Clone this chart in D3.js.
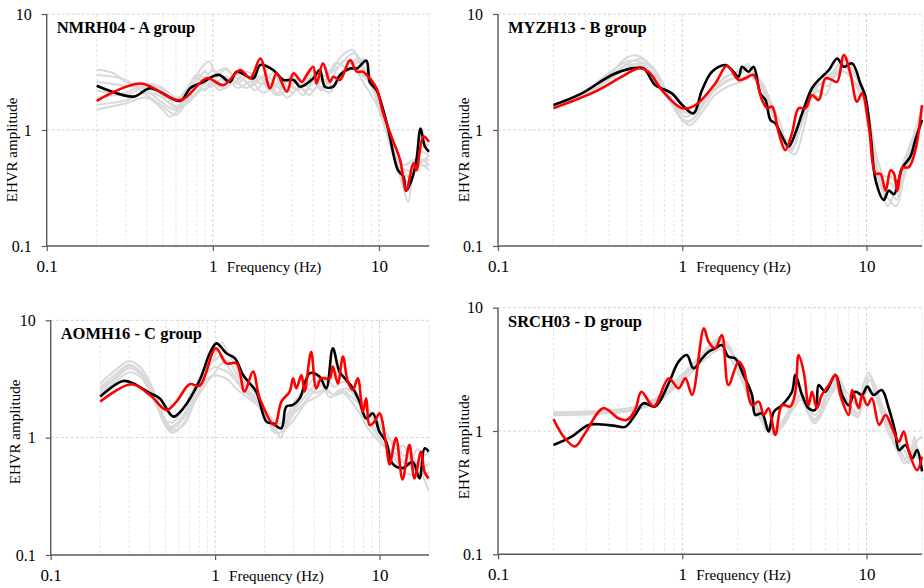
<!DOCTYPE html>
<html>
<head>
<meta charset="utf-8">
<script src="https://cdn.jsdelivr.net/npm/d3@7"></script>
<style>
  body { margin: 0; background: #fff; }
  svg { display: block; }
</style>
</head>
<body>
<div id="chart"></div>
<script>
// ---- data: [frequency (Hz), EHVR amplitude] ----
const titles = ["NMRH04 - A group", "MYZH13 - B group", "AOMH16 - C group", "SRCH03 - D group"];
const xTicks = [0.1, 1, 10];
const yTicks = [0.1, 1, 10];
const minorX = [0.2, 0.3, 0.4, 0.5, 0.6, 0.7, 0.8, 0.9, 2, 3, 4, 5, 6, 7, 8, 9, 20];

const blackA = [[0.2,2.41],[0.333,1.94],[0.42,2.29],[0.637,1.78],[0.73,2.29],[0.88,2.6],[1.01,2.92],[1.1,2.98],[1.27,2.6],[1.39,3.18],[1.75,2.79],[1.93,3.63],[2.31,3.29],[2.66,2.7],[3.06,2.7],[3.35,2.36],[4.02,2.79],[4.4,3.29],[4.73,2.36],[5.3,2.36],[5.83,2.98],[6.7,3.39],[7.35,3.39],[8.4,3.96],[8.8,2.6],[9.67,2.21],[10.6,1.49],[11.4,1.0],[13.0,0.45],[14.0,0.4],[14.6,0.3],[15.7,0.37],[16.8,0.55],[17.8,1.03],[18.9,0.72],[20,0.65]];
const redA = [[0.2,1.78],[0.366,2.52],[0.637,1.81],[0.92,2.79],[1.16,2.44],[1.46,3.29],[1.68,2.79],[1.93,4.14],[2.21,2.29],[2.42,3.08],[2.79,2.14],[3.06,3.08],[3.43,2.6],[3.67,2.98],[4.02,3.51],[4.21,2.52],[4.6,3.75],[5.07,2.6],[5.3,2.88],[5.83,2.7],[6.7,4.0],[7.35,3.18],[8.0,3.18],[8.8,2.79],[9.67,2.29],[10.6,1.39],[12.1,0.82],[13.4,0.55],[14.6,0.3],[16.1,0.52],[16.8,0.45],[18.5,0.88],[20,0.79]];
const greyA = [
  [[0.2,3.3],[0.25,3.1],[0.3,2.6],[0.4,2.2],[0.5,1.7],[0.6,1.5],[0.7,2.0],[0.85,3.4],[0.95,3.9],[1.05,3.0],[1.2,3.3],[1.4,2.8],[1.6,3.2],[1.9,2.7],[2.2,3.4],[2.6,2.5],[3,3.0],[3.5,2.7],[4,3.2],[4.6,2.9],[5.3,3.4],[6,4.4],[7,4.9],[7.6,3.8],[8.5,3.2],[9.5,2.0],[10.5,1.2],[12,0.7],[13.5,0.45],[15,0.35],[16,0.5],[18,0.65],[20,0.6]],
  [[0.2,3.0],[0.3,2.7],[0.4,2.0],[0.5,1.6],[0.6,1.35],[0.7,1.8],[0.8,2.6],[0.9,3.2],[1.0,2.6],[1.2,2.3],[1.4,3.0],[1.7,2.4],[2,2.8],[2.4,2.0],[2.8,2.6],[3.2,2.2],[3.8,2.8],[4.5,2.3],[5,3.0],[5.8,3.6],[6.5,4.3],[7.2,4.6],[8,3.6],[9,2.6],[10,1.6],[11,1.0],[12.5,0.55],[14,0.32],[15,0.24],[16,0.4],[18,0.55],[20,0.5]],
  [[0.2,2.6],[0.3,2.4],[0.4,2.3],[0.5,2.0],[0.6,1.8],[0.7,2.3],[0.8,3.0],[0.9,2.8],[1.0,3.3],[1.2,2.6],[1.5,3.2],[1.8,2.6],[2.1,3.0],[2.5,2.3],[3.0,2.9],[3.4,2.4],[4.0,3.0],[4.7,2.6],[5.5,3.8],[6.5,3.4],[7.5,4.2],[8.3,3.0],[9.5,2.3],[10.5,1.3],[12,0.65],[13.5,0.42],[15,0.4],[16.5,0.55],[18,0.7],[20,0.75]],
  [[0.2,2.2],[0.3,2.0],[0.4,2.4],[0.5,2.2],[0.6,1.6],[0.7,1.9],[0.8,2.4],[0.9,2.2],[1.0,2.9],[1.2,3.4],[1.4,2.5],[1.6,2.9],[2,2.5],[2.3,3.1],[2.7,2.2],[3.2,2.6],[3.6,2.2],[4.2,2.8],[5,2.5],[5.5,3.2],[6.2,4.0],[7,3.6],[8,4.1],[9,2.8],[10,2.0],[11.5,0.9],[13,0.5],[14.5,0.45],[16,0.45],[18,0.5],[20,0.45]],
  [[0.2,1.9],[0.3,2.1],[0.4,2.5],[0.5,2.3],[0.6,1.9],[0.7,2.1],[0.8,2.8],[0.95,2.4],[1.1,3.0],[1.3,2.5],[1.5,2.8],[1.8,2.2],[2.1,2.7],[2.5,2.0],[3,2.4],[3.5,2.0],[4,2.6],[4.5,2.2],[5.2,2.8],[6,3.0],[6.8,4.0],[7.5,3.2],[8.5,2.7],[9.5,2.0],[11,1.0],[12.5,0.55],[14,0.35],[15,0.3],[16.5,0.45],[18,0.55],[20,0.55]],
  [[0.2,1.65],[0.3,1.8],[0.4,2.1],[0.5,1.9],[0.6,1.55],[0.7,1.7],[0.85,2.2],[1.0,2.4],[1.2,2.9],[1.4,2.3],[1.7,2.6],[2,2.1],[2.4,2.4],[2.8,1.9],[3.3,2.3],[3.8,2.0],[4.3,2.4],[5,2.1],[5.6,2.6],[6.3,3.2],[7,3.5],[8,3.0],[9,2.4],[10,1.8],[11,1.1],[12.5,0.6],[14,0.45],[15.5,0.38],[17,0.48],[20,0.6]],
  [[0.2,1.5],[0.3,1.7],[0.4,1.9],[0.5,1.5],[0.55,1.3],[0.65,1.6],[0.8,2.1],[0.95,2.7],[1.1,2.2],[1.3,2.7],[1.6,2.3],[1.9,2.9],[2.2,2.2],[2.6,2.7],[3,2.1],[3.5,2.5],[4,2.2],[4.6,2.7],[5.3,2.4],[6,3.0],[6.6,3.8],[7.3,3.3],[8,2.6],[9,2.0],[10,1.5],[11.5,0.85],[13,0.55],[14.5,0.5],[16,0.55],[18,0.5],[20,0.5]]
];

const blackB = [[0.2,1.64],[0.285,2.07],[0.415,2.98],[0.533,3.4],[0.617,3.4],[0.713,2.44],[0.879,2.07],[1.0,1.64],[1.15,1.39],[1.28,2.21],[1.45,3.18],[1.71,3.63],[1.86,3.29],[2.02,2.88],[2.11,3.51],[2.29,3.18],[2.44,3.51],[2.65,2.07],[2.83,1.81],[3.01,1.22],[3.2,1.14],[3.48,0.88],[3.78,0.72],[4.11,0.94],[4.47,1.39],[5.06,2.29],[5.5,2.7],[6.25,3.29],[6.93,4.14],[7.53,3.51],[8.35,3.75],[9.26,2.52],[9.86,1.94],[10.5,0.94],[11.2,0.37],[12.4,0.25],[13.2,0.3],[14.1,0.28],[15.6,0.47],[17.3,0.59],[18.4,0.82],[20,1.22]];
const redB = [[0.2,1.54],[0.337,2.14],[0.47,2.88],[0.58,3.4],[0.656,3.18],[0.775,2.21],[1.0,1.54],[1.18,1.64],[1.51,2.52],[1.75,3.58],[2.02,2.7],[2.2,2.79],[2.44,2.98],[2.71,1.81],[2.89,1.54],[3.07,1.59],[3.34,0.94],[3.62,0.67],[3.94,0.94],[4.28,1.54],[4.66,1.54],[5.06,2.0],[5.5,1.81],[5.98,2.79],[6.5,2.7],[6.93,2.6],[7.53,4.43],[8.17,3.08],[8.87,1.75],[9.46,2.07],[10.3,1.07],[11.2,0.42],[11.9,0.42],[12.7,0.3],[13.5,0.45],[14.1,0.42],[14.7,0.3],[15.6,0.47],[17.0,0.48],[18.4,0.67],[20,1.64]];
const greyB = [
  [[0.2,1.6],[0.3,2.1],[0.4,3.0],[0.5,4.2],[0.56,4.4],[0.65,3.8],[0.8,2.2],[0.95,1.35],[1.05,1.15],[1.2,1.35],[1.4,2.0],[1.7,2.6],[2.0,2.9],[2.25,3.7],[2.5,3.0],[2.8,2.0],[3.2,1.2],[3.6,0.75],[3.9,0.65],[4.3,1.0],[4.8,1.6],[5.3,2.3],[6,2.7],[6.8,3.4],[7.5,4.0],[8.5,3.2],[9.5,2.0],[10.5,0.8],[11.5,0.4],[12.5,0.28],[13.5,0.3],[14.5,0.25],[16,0.45],[18,0.75],[20,1.4]],
  [[0.2,1.55],[0.3,2.0],[0.4,2.8],[0.5,3.7],[0.6,4.1],[0.7,3.4],[0.85,2.0],[1.0,1.25],[1.1,1.2],[1.25,1.5],[1.5,2.2],[1.8,2.7],[2.1,3.1],[2.3,3.5],[2.6,2.8],[2.9,1.9],[3.3,1.1],[3.7,0.7],[4.0,0.72],[4.5,1.2],[5,1.9],[5.5,2.5],[6.2,2.4],[7,3.6],[7.8,3.4],[8.6,2.6],[9.5,2.2],[10.5,1.0],[11.5,0.45],[12.5,0.32],[13.5,0.35],[14.5,0.3],[16,0.5],[18,0.8],[20,1.2]],
  [[0.2,1.6],[0.3,2.2],[0.4,3.1],[0.5,3.9],[0.58,3.9],[0.7,3.0],[0.85,1.9],[0.95,1.5],[1.05,1.3],[1.2,1.5],[1.4,2.1],[1.7,2.8],[2.0,3.2],[2.2,3.3],[2.5,2.7],[2.9,1.8],[3.3,1.05],[3.7,0.68],[4.0,0.7],[4.5,1.3],[5,2.2],[5.5,1.9],[6,2.8],[6.8,3.0],[7.5,3.8],[8.3,2.8],[9.3,2.1],[10.3,1.3],[11.3,0.5],[12.3,0.3],[13.3,0.25],[14.5,0.22],[16,0.4],[18,0.7],[20,1.3]],
  [[0.2,1.6],[0.3,2.0],[0.4,2.9],[0.5,3.6],[0.6,3.6],[0.7,2.9],[0.85,1.8],[1.0,1.45],[1.15,1.4],[1.3,1.7],[1.5,2.3],[1.8,3.0],[2.1,2.8],[2.4,3.1],[2.7,2.4],[3.0,1.6],[3.4,1.0],[3.8,0.8],[4.2,0.9],[4.6,1.5],[5.1,2.4],[5.6,2.1],[6.2,3.0],[7,3.2],[7.8,4.2],[8.6,3.0],[9.6,2.3],[10.5,1.1],[11.5,0.55],[12.5,0.4],[13.5,0.4],[14.5,0.35],[16,0.55],[18,0.9],[20,1.6]],
  [[0.2,1.55],[0.3,2.0],[0.4,2.7],[0.5,3.4],[0.62,3.8],[0.75,2.8],[0.9,1.6],[1.0,1.2],[1.1,1.1],[1.25,1.35],[1.5,2.0],[1.8,2.4],[2.1,2.6],[2.4,3.0],[2.7,2.6],[3.0,1.8],[3.4,1.15],[3.8,0.66],[4.1,0.62],[4.6,1.1],[5,1.8],[5.5,2.2],[6,2.0],[6.6,2.8],[7.3,3.2],[8,3.0],[9,2.2],[10,1.6],[11,0.6],[12,0.35],[13,0.22],[14,0.27],[15,0.3],[16.5,0.5],[18,0.8],[20,1.2]]
];

const blackC = [[0.2,2.24],[0.276,3.04],[0.318,2.9],[0.401,2.39],[0.461,2.16],[0.556,1.51],[0.64,1.78],[0.807,3.1],[0.928,5.24],[1.02,6.36],[1.17,5.24],[1.32,4.74],[1.48,3.42],[1.59,3.0],[1.78,2.47],[2.05,1.37],[2.25,1.32],[2.53,1.2],[2.71,1.84],[2.98,1.9],[3.27,2.16],[3.76,3.54],[4.32,3.31],[4.74,2.63],[5.2,5.77],[5.71,3.65],[6.27,3.1],[6.89,2.63],[7.56,2.03],[8.3,1.46],[9.11,1.61],[10,1.12],[10.98,0.92],[12.0,0.6],[13.8,0.55],[15.9,0.62],[17.5,0.45],[18.8,0.81],[19.9,0.76]];
const redC = [[0.2,2.03],[0.31,2.85],[0.401,2.31],[0.506,1.72],[0.582,2.03],[0.7,2.85],[0.807,2.77],[1.01,5.77],[1.17,4.3],[1.35,4.3],[1.51,2.47],[1.7,3.65],[1.87,2.16],[2.3,1.28],[2.53,2.03],[2.84,2.47],[2.98,3.2],[3.12,2.63],[3.35,3.42],[3.5,2.47],[3.84,5.4],[4.12,2.63],[4.42,3.2],[4.97,3.2],[5.2,4.03],[5.58,2.9],[5.99,4.9],[6.42,3.0],[6.89,2.55],[7.38,3.2],[7.92,1.67],[8.3,2.16],[8.7,1.28],[9.33,1.37],[10,1.61],[10.98,0.87],[11.5,0.59],[12.6,0.99],[13.8,0.44],[15.2,0.87],[16.3,0.45],[17.9,0.76],[18.8,0.51],[19.9,0.45]];
const greyC = [
  [[0.2,2.9],[0.25,3.8],[0.3,4.5],[0.35,4.0],[0.4,3.0],[0.45,2.0],[0.5,1.4],[0.55,1.2],[0.65,1.5],[0.75,2.3],[0.9,3.8],[1.0,5.0],[1.1,6.5],[1.2,5.2],[1.35,4.0],[1.5,3.0],[1.7,2.5],[2.0,1.8],[2.3,1.3],[2.5,1.0],[2.8,1.5],[3.2,2.0],[3.7,2.8],[4.2,3.4],[4.8,3.0],[5.5,3.6],[6.2,3.2],[7,2.6],[8,2.0],[9,1.6],[10,1.3],[11,1.0],[12.5,0.9],[14,0.7],[15.5,0.75],[17,0.55],[18.5,0.45],[20,0.35]],
  [[0.2,2.7],[0.25,3.5],[0.3,4.2],[0.35,3.7],[0.4,2.8],[0.45,1.9],[0.5,1.3],[0.55,1.15],[0.65,1.3],[0.75,2.0],[0.9,3.0],[1.0,3.6],[1.1,4.3],[1.2,4.5],[1.35,3.5],[1.5,2.8],[1.7,2.3],[2.0,1.7],[2.3,1.1],[2.6,1.15],[3.0,1.6],[3.4,1.9],[3.9,2.4],[4.4,2.8],[5,2.2],[5.6,2.5],[6.3,2.6],[7.2,2.2],[8,1.5],[9,1.3],[10,1.1],[11,1.1],[12.5,0.8],[14,0.85],[15.5,0.65],[17,0.8],[18.5,0.7],[20,0.75]],
  [[0.2,2.5],[0.25,3.2],[0.3,3.9],[0.35,3.5],[0.4,2.6],[0.45,1.8],[0.5,1.3],[0.55,1.25],[0.65,1.6],[0.75,2.6],[0.9,4.2],[1.0,4.6],[1.1,5.0],[1.2,4.0],[1.35,3.2],[1.5,2.6],[1.8,2.1],[2.1,1.5],[2.4,1.2],[2.7,1.4],[3.1,1.8],[3.6,2.3],[4.1,2.9],[4.7,3.3],[5.3,2.7],[6,3.0],[6.8,2.7],[7.6,2.1],[8.5,1.7],[9.5,1.3],[10.5,1.0],[11.5,0.8],[13,0.7],[14.5,0.6],[16,0.65],[17.5,0.55],[20,0.6]],
  [[0.2,2.4],[0.25,3.0],[0.3,3.6],[0.35,3.3],[0.4,2.5],[0.45,1.8],[0.5,1.4],[0.55,1.35],[0.65,1.8],[0.75,2.7],[0.9,3.6],[1.0,4.0],[1.1,3.8],[1.2,3.6],[1.35,3.0],[1.5,2.5],[1.8,2.0],[2.1,1.6],[2.4,1.3],[2.7,1.5],[3.1,2.1],[3.6,2.6],[4.1,2.4],[4.7,2.6],[5.3,2.3],[6,2.5],[6.8,2.2],[7.6,1.9],[8.5,1.4],[9.5,1.1],[10.5,0.9],[11.5,0.75],[13,0.65],[14.5,0.6],[16,0.55],[17.5,0.5],[20,0.5]],
  [[0.2,2.6],[0.25,3.3],[0.3,4.1],[0.35,3.6],[0.4,2.6],[0.45,1.75],[0.5,1.25],[0.55,1.1],[0.65,1.35],[0.75,2.1],[0.9,3.2],[1.0,3.4],[1.1,3.3],[1.2,3.1],[1.35,2.6],[1.5,2.3],[1.8,1.9],[2.1,1.4],[2.4,1.1],[2.7,1.2],[3.1,1.5],[3.6,2.0],[4.1,2.2],[4.7,2.5],[5.3,2.3],[6,2.4],[6.8,2.0],[7.6,1.6],[8.5,1.2],[9.5,1.0],[10.5,0.85],[11.5,0.8],[13,0.6],[14.5,0.5],[16,0.48],[17.5,0.5],[20,0.45]]
];

const blackD = [[0.2,0.77],[0.251,0.9],[0.31,1.12],[0.366,1.13],[0.432,1.1],[0.49,1.08],[0.555,1.35],[0.617,1.68],[0.713,1.58],[0.843,2.43],[0.955,3.65],[1.06,4.13],[1.15,3.22],[1.28,3.88],[1.39,4.39],[1.51,4.68],[1.64,4.98],[1.78,4.0],[1.94,3.88],[2.15,2.85],[2.39,1.96],[2.49,1.35],[2.71,1.39],[2.94,0.99],[3.14,1.43],[3.48,1.62],[3.94,2.08],[4.11,2.85],[4.47,1.96],[4.85,1.53],[5.27,1.48],[5.5,2.36],[5.98,2.08],[6.78,2.85],[7.37,1.96],[8.0,1.62],[8.7,2.08],[9.46,1.96],[10.1,2.29],[10.9,1.96],[12.1,2.15],[13.2,1.53],[14.3,0.99],[15.0,0.7],[16.3,0.77],[17.7,0.6],[18.8,0.7],[20,0.47]];
const redD = [[0.2,1.25],[0.231,0.87],[0.262,0.75],[0.297,0.96],[0.373,1.53],[0.45,1.27],[0.5,1.23],[0.555,1.48],[0.6,2.08],[0.7,1.58],[0.843,2.67],[0.955,2.22],[1.04,2.67],[1.13,1.96],[1.31,6.8],[1.39,5.3],[1.51,4.68],[1.64,6.0],[1.78,2.36],[2.02,3.65],[2.15,3.22],[2.39,1.62],[2.6,1.73],[2.77,1.35],[2.94,1.53],[3.2,0.93],[3.48,1.62],[3.86,1.58],[4.11,2.08],[4.28,4.13],[4.56,3.02],[4.85,1.62],[5.06,2.08],[5.38,1.53],[5.72,1.96],[6.25,2.36],[6.78,2.85],[7.2,1.96],[8.0,1.35],[8.35,2.15],[9.07,1.53],[9.46,1.96],[10.1,1.62],[10.7,1.84],[11.7,1.12],[12.7,1.35],[13.8,1.05],[15.0,0.82],[15.9,0.99],[17.0,0.68],[18.8,0.48],[20,0.62]];
const greyD = [
  [[0.2,1.42],[0.3,1.44],[0.4,1.47],[0.5,1.52],[0.6,1.62],[0.7,1.8],[0.8,2.1],[0.9,2.5],[1.0,2.9],[1.1,3.3],[1.2,3.8],[1.35,4.6],[1.5,5.4],[1.6,5.8],[1.75,5.0],[1.9,4.0],[2.1,2.9],[2.3,2.0],[2.6,1.4],[2.9,1.0],[3.2,0.95],[3.6,1.3],[4.0,1.7],[4.3,2.1],[4.7,1.6],[5.1,1.2],[5.5,1.3],[6,1.8],[6.6,2.4],[7,2.8],[7.6,2.0],[8.2,1.6],[9,1.4],[9.6,2.4],[10.3,3.0],[11,2.2],[12,1.6],[13,1.2],[14,0.9],[15,0.75],[16,0.6],[17,0.55],[18.2,0.9],[19,0.65],[20,0.5]],
  [[0.2,1.38],[0.3,1.4],[0.4,1.43],[0.5,1.48],[0.6,1.56],[0.7,1.72],[0.8,1.95],[0.9,2.3],[1.0,2.7],[1.1,3.1],[1.2,3.5],[1.35,4.2],[1.5,4.9],[1.6,5.3],[1.75,4.8],[1.9,3.9],[2.1,2.7],[2.3,1.8],[2.6,1.3],[2.9,1.05],[3.2,1.0],[3.6,1.2],[4.0,1.6],[4.4,1.9],[4.8,1.5],[5.2,1.25],[5.6,1.4],[6.1,1.9],[6.6,2.2],[7.1,2.6],[7.6,2.2],[8.3,1.8],[9,1.6],[9.7,2.0],[10.4,2.6],[11.2,2.0],[12,1.5],[13,1.1],[14,0.85],[15,0.7],[16,0.6],[17,0.62],[18,0.8],[19,0.7],[20,0.55]],
  [[0.2,1.34],[0.3,1.36],[0.4,1.39],[0.5,1.44],[0.6,1.52],[0.7,1.66],[0.8,1.88],[0.9,2.2],[1.0,2.55],[1.1,2.9],[1.2,3.3],[1.35,3.9],[1.5,4.4],[1.6,4.6],[1.75,4.2],[1.9,3.5],[2.1,2.6],[2.3,1.9],[2.6,1.4],[2.9,1.1],[3.2,1.05],[3.6,1.25],[4.0,1.5],[4.4,1.8],[4.8,1.4],[5.2,1.15],[5.6,1.3],[6.1,1.7],[6.6,2.1],[7.1,2.4],[7.6,1.9],[8.3,1.5],[9,1.35],[9.7,1.8],[10.4,2.2],[11.2,1.9],[12,1.4],[13,1.0],[14,0.8],[15,0.65],[16,0.55],[17,0.58],[18,0.7],[19,0.85],[20,0.9]],
  [[0.2,1.36],[0.3,1.38],[0.4,1.41],[0.5,1.46],[0.6,1.58],[0.7,1.76],[0.8,2.0],[0.9,2.35],[1.0,2.75],[1.1,3.2],[1.2,3.7],[1.35,4.4],[1.5,5.1],[1.6,5.5],[1.75,5.2],[1.9,4.2],[2.1,3.0],[2.3,2.1],[2.6,1.5],[2.9,1.1],[3.2,0.98],[3.6,1.15],[4.0,1.55],[4.4,2.0],[4.8,1.7],[5.2,1.35],[5.6,1.5],[6.1,2.1],[6.6,2.6],[7.1,2.3],[7.6,1.8],[8.3,1.4],[9,1.3],[9.7,2.2],[10.4,2.8],[11.2,2.3],[12,1.7],[13,1.3],[14,1.0],[15,0.8],[16,0.7],[17,0.6],[18,0.75],[19,0.6],[20,0.6]]
];

// ---- layout ----
const W = 924, H = 588;
const serif = "'Liberation Serif', 'Times New Roman', Tinos, 'Noto Serif', 'DejaVu Serif', FreeSerif, serif";
const panels = [
  { title: titles[0], black: blackA, red: redA, grey: greyA, left: 46.7, top: 14, right: 429, bottom: 246, lab: [11.7, 150] },
  { title: titles[1], black: blackB, red: redB, grey: greyB, left: 498, top: 14, right: 922, bottom: 246, lab: [464, 150] },
  { title: titles[2], black: blackC, red: redC, grey: greyC, left: 50.7, top: 320.3, right: 429, bottom: 555, lab: [15, 432] },
  { title: titles[3], black: blackD, red: redD, grey: greyD, left: 498, top: 307.7, right: 922, bottom: 554.3, lab: [464, 447] }
];

const svg = d3.select("#chart").append("svg")
  .attr("width", W)
  .attr("height", H)
  .attr("font-family", serif);

panels.forEach(function (p) {
  let g = svg.append("g");

  let x = d3.scaleLog().domain([0.1, 20]).range([p.left, p.right]);
  let y = d3.scaleLog().domain([0.1, 10]).range([p.bottom, p.top]);

  // gridlines
  g.selectAll(".minor").data(minorX).enter().append("line")
    .attr("x1", d => x(d)).attr("x2", d => x(d))
    .attr("y1", p.top).attr("y2", p.bottom)
    .attr("stroke", "#e6e6e6").attr("stroke-width", 1)
    .attr("stroke-dasharray", "3,2");
  g.selectAll(".major").data([1, 10]).enter().append("line")
    .attr("x1", d => x(d)).attr("x2", d => x(d))
    .attr("y1", p.top).attr("y2", p.bottom)
    .attr("stroke", "#d4d4d4").attr("stroke-width", 1)
    .attr("stroke-dasharray", "3,2");
  g.selectAll(".hgrid").data([1, 10]).enter().append("line")
    .attr("x1", p.left).attr("x2", p.right)
    .attr("y1", d => y(d)).attr("y2", d => y(d))
    .attr("stroke", "#d4d4d4").attr("stroke-width", 1)
    .attr("stroke-dasharray", "3,2");

  let line = d3.line()
    .x(d => x(d[0]))
    .y(d => y(d[1]))
    .curve(d3.curveCatmullRom.alpha(0.5));

  // curves
  g.selectAll(".grey").data(p.grey).enter().append("path")
    .attr("d", line)
    .attr("fill", "none")
    .attr("stroke", "#d9d9d9")
    .attr("stroke-width", 2);
  g.append("path").attr("d", line(p.black))
    .attr("fill", "none").attr("stroke", "#000").attr("stroke-width", 2.6)
    .attr("stroke-linejoin", "round");
  g.append("path").attr("d", line(p.red))
    .attr("fill", "none").attr("stroke", "#ff0000").attr("stroke-width", 2.6)
    .attr("stroke-linejoin", "round");

  // axes
  let xAxis = d3.axisBottom(x).tickValues(xTicks).tickSize(5).tickFormat(d3.format("~g"));
  let yAxis = d3.axisLeft(y).tickValues(yTicks).tickSize(5).tickFormat(d3.format("~g"));

  let gx = g.append("g").attr("transform", "translate(0," + p.bottom + ")").call(xAxis)
    .attr("font-family", serif).attr("font-size", 17);
  gx.select(".domain").attr("stroke", "#595959").attr("stroke-width", 1.4).attr("d", "M" + p.left + ",0H" + p.right);
  gx.selectAll(".tick line").attr("stroke", "#595959").attr("stroke-width", 1.2);
  gx.selectAll(".tick text")
    .attr("y", 26).attr("dy", 0)
    .attr("fill", "#000");

  let gy = g.append("g").attr("transform", "translate(" + p.left + ",0)").call(yAxis)
    .attr("font-family", serif).attr("font-size", 16);
  gy.select(".domain").attr("stroke", "#595959").attr("stroke-width", 1.4).attr("d", "M0," + p.top + "V" + p.bottom);
  gy.selectAll(".tick line").attr("stroke", "#595959").attr("stroke-width", 1.2);
  gy.selectAll(".tick text")
    .attr("x", -15).attr("dy", "0.33em")
    .attr("fill", "#000");

  // labels
  g.append("text")
    .attr("x", x(1) + 14).attr("y", p.bottom + 26)
    .attr("font-size", 15)
    .text("Frequency (Hz)");

  g.append("text")
    .attr("transform", "translate(" + p.lab[0] + "," + p.lab[1] + ") rotate(-90)")
    .attr("text-anchor", "middle")
    .attr("dy", "0.33em")
    .attr("font-size", 15)
    .text("EHVR amplitude");

  g.append("text")
    .attr("x", p.left + 10).attr("y", p.top + 19)
    .attr("font-size", 16.5)
    .attr("font-weight", "bold")
    .text(p.title);
});
</script>
</body>
</html>
